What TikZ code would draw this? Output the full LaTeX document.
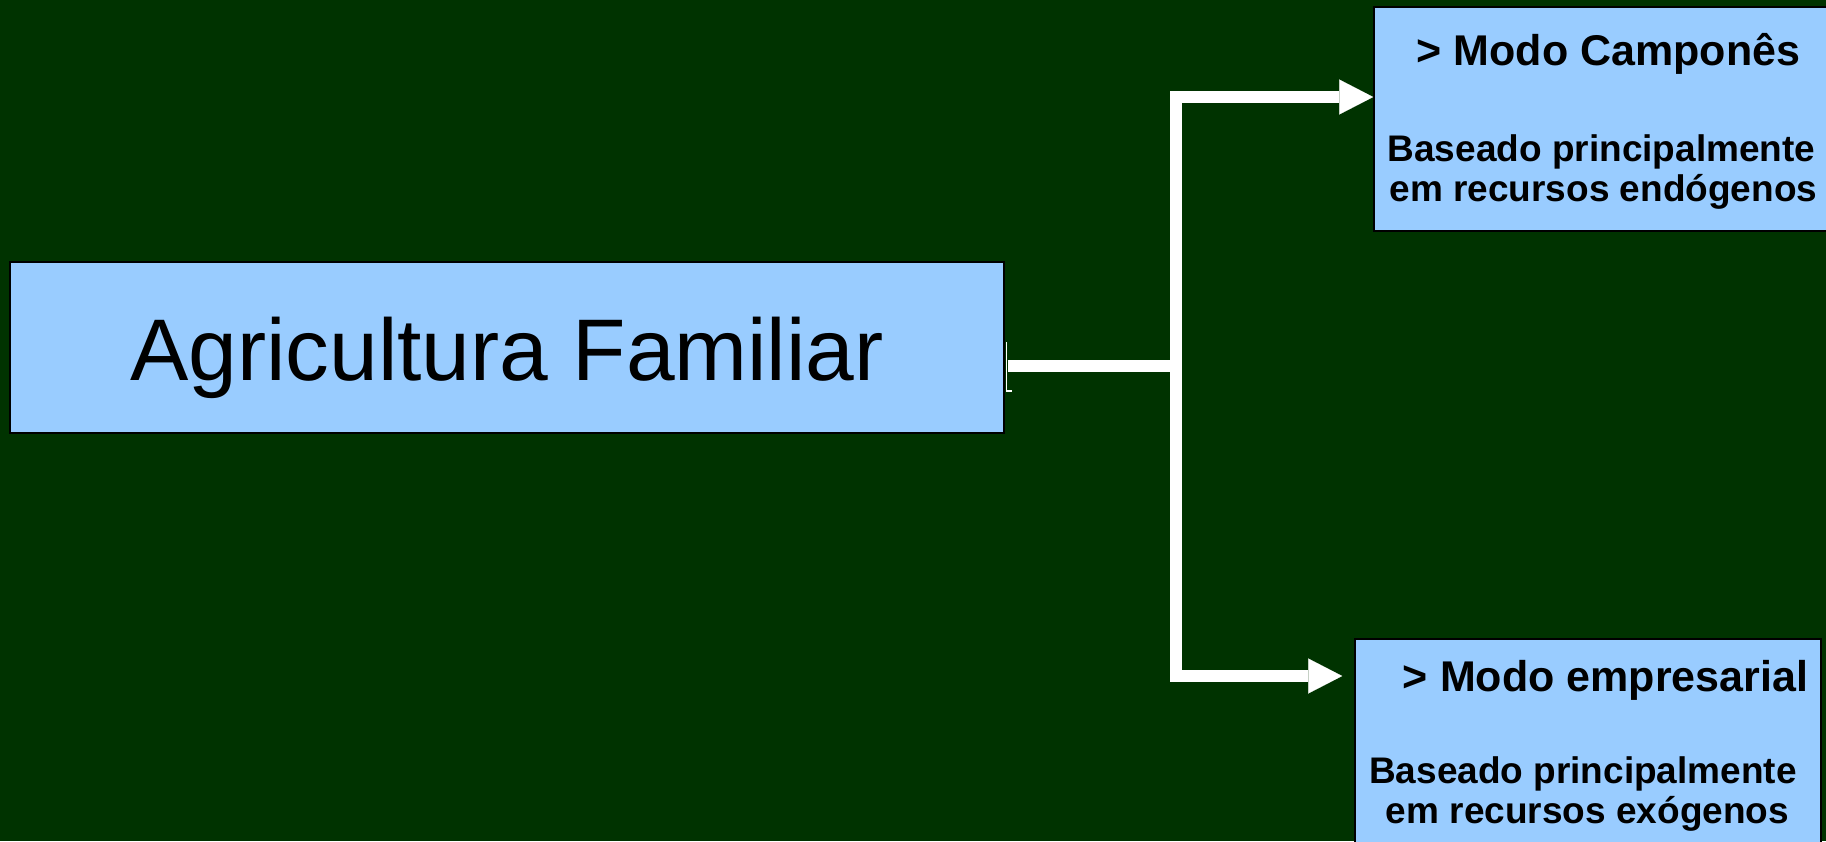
\documentclass[tikz,border=0pt]{standalone}
\usepackage{fontspec}
\setmainfont{Liberation Sans}
\usetikzlibrary{arrows.meta}
\definecolor{bg}{HTML}{003300}
\definecolor{boxblue}{HTML}{99CCFF}
\tikzset{bighead/.tip={Triangle[length=34pt,width=35pt,line width=0.1pt]}}
\begin{document}
\begin{tikzpicture}[x=1pt,y=-1pt,
  box/.style={draw=black,line width=1.6pt,fill=boxblue,inner sep=0pt},
  conn/.style={draw=white,line width=12pt,line join=miter},
  ttl/.style={anchor=base,inner sep=0pt,font=\bfseries\fontsize{43}{48}\selectfont},
  txt/.style={anchor=base,inner sep=0pt,font=\bfseries\fontsize{37}{40}\selectfont}]
\fill[bg] (0,0) rectangle (1826,841);
\useasboundingbox (0,0) rectangle (1826,841);

% boxes
\node[box,minimum width=994pt,minimum height=171pt] (fam) at (507,347.5) {};
\node[anchor=base,inner sep=0pt,font=\fontsize{87.5}{100}\selectfont] (famtext) at (507,380.7) {Agricultura Familiar};

\node[box,minimum width=460pt,minimum height=224pt] (cbox) at (1604,119) {};
\node[ttl] (ctitle) at (1608.5,65.7) {> Modo Camponês};
\node[txt] (cl1) at (1601.5,161.7) {Baseado principalmente};
\node[txt] (cl2) at (1603.5,201.7) {em recursos endógenos};

\node[box,minimum width=466pt,minimum height=221pt] (ebox) at (1588,749.5) {};
\node[ttl] (etitle) at (1605.5,691.7) {> Modo empresarial};
\node[txt] (el1) at (1583,783.3) {Baseado principalmente};
\node[txt] (el2) at (1587.5,823.3) {em recursos exógenos};

% connectors
\coordinate (j) at (1175.5,365.5);
\coordinate (cc) at (1175.5,97);
\coordinate (ec) at (1175.5,676);
\draw[conn] ([xshift=3pt]fam.east |- j) -- (j);
\draw[conn,bighead-bighead] ([xshift=-12pt]ebox.west |- ec) -- (ec) -- (cc) -- (cbox.west |- cc);

% small bracket mark near the main box
\draw[white,line width=1.2pt] (1006.5,342) -- (1006.5,391) -- (1012,391);
\end{tikzpicture}
\end{document}
